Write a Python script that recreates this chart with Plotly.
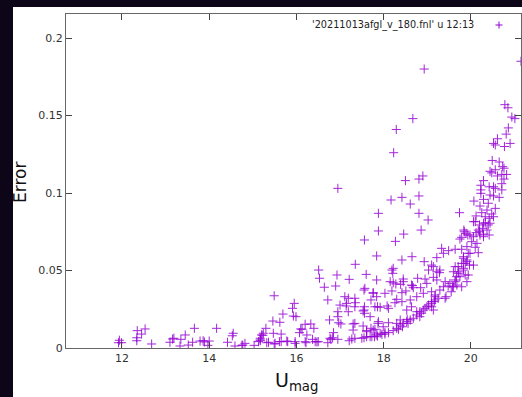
import plotly.graph_objects as go

# U magnitude (x) and error (y)
umag = [
    11.94, 11.92, 11.99, 12.35, 12.34, 12.34, 12.45, 12.53, 12.68, 13.10, 13.16, 13.19, 13.33, 13.35, 13.45, 13.52,
    13.62, 13.66, 13.79, 13.86, 13.89, 13.97, 14.00, 14.17, 14.42, 14.53, 14.55, 14.59, 14.75, 14.82, 15.03, 15.13,
    15.17, 15.20, 15.24, 15.30, 15.32,
    15.49, 15.95, 15.91, 15.69, 15.93, 15.99, 15.46, 15.62, 15.47, 15.65, 16.20, 16.10, 16.24, 15.17, 15.51, 15.65,
    15.78, 15.97, 16.22,
    15.23, 16.13, 16.33, 16.40, 16.07,
    14.77, 15.17, 15.36, 15.49, 15.61, 15.80, 15.97, 16.37, 16.47, 16.72, 16.79, 16.95, 17.21, 17.27, 17.34, 17.50,
    17.55, 17.69, 17.79, 17.86,
    16.95, 17.88, 17.88, 17.56, 17.84, 16.51, 16.53, 16.93, 17.35, 17.21, 17.60, 16.64, 16.90, 16.72, 17.19, 17.15,
    17.14, 17.35, 17.55, 17.76, 17.84, 17.71, 17.56, 17.53, 17.56, 17.80, 16.76, 16.95, 16.97, 17.02, 17.30, 17.61,
    17.71, 17.87, 17.83, 16.85, 16.83,
    18.90, 18.81, 18.50, 18.17, 18.42, 18.61, 18.81, 18.81, 19.02, 19.74, 18.46, 18.86, 18.27, 18.42, 18.65, 18.93,
    19.22, 19.33, 19.49, 19.64, 19.79, 19.75, 19.85, 19.93, 18.22, 18.21, 18.45, 18.28, 18.15, 18.39, 18.66, 18.78,
    18.95, 19.03, 19.10, 19.29, 19.28, 17.76, 18.03, 18.19, 18.51, 18.68, 18.85, 18.99, 19.14, 19.22, 17.86, 18.08,
    18.30, 18.42, 18.61, 18.76, 18.91, 19.10, 19.18, 19.43, 19.55, 19.52, 19.68, 18.53, 18.64, 18.76, 18.87, 18.95,
    19.03, 19.10, 19.18, 18.83, 18.68, 18.54, 18.45, 18.38, 18.30, 18.56, 18.43, 18.34, 18.22, 18.11, 18.03, 17.92,
    17.73, 17.76,
    19.64, 19.71, 19.83, 19.75, 19.87, 19.91, 19.79, 19.64, 19.58, 19.48, 19.37, 19.91, 19.83, 19.94, 19.87,
    20.78, 20.85, 20.94, 21.01, 20.86, 20.81, 20.61, 20.52, 20.56, 20.77, 20.90, 20.49, 20.65, 20.73, 20.76, 20.56,
    20.44, 20.48, 20.71, 20.82, 20.61, 20.76, 20.71, 20.29, 20.23, 20.23, 20.42, 20.52, 20.56, 20.71, 20.23, 20.44,
    20.52, 20.65, 20.29, 20.07, 20.40, 20.21, 20.56, 20.37, 20.12, 20.25, 20.48, 20.52, 20.42, 20.33, 20.06, 20.20,
    20.29, 20.44, 20.42, 20.27, 20.17, 20.12, 20.21, 19.84, 19.89, 19.98, 20.06, 19.79, 20.29, 20.37,
    20.10, 20.33, 20.40, 20.20, 20.29, 20.02, 20.14, 19.91, 20.10, 20.17, 19.98, 19.37, 19.83, 19.91, 19.79, 19.97,
    20.06, 19.71, 19.83, 19.71, 19.60, 19.94, 19.67, 19.64, 19.41, 19.60, 19.29, 19.41, 19.18, 19.16, 19.25, 19.10,
    19.14, 19.22, 19.14,
    18.93, 18.67, 18.29, 18.23, 21.15,
    16.20, 16.43, 16.50, 16.77, 17.61, 17.96, 18.03, 18.30, 18.38, 18.53, 18.61, 18.76, 18.83, 18.91, 18.99, 19.10,
    16.95, 17.34, 17.55, 17.92, 18.11, 18.26, 18.42, 18.64, 18.45, 18.22, 18.19, 17.84, 17.57, 17.34, 17.11, 17.19,
    17.00, 17.69, 17.88, 17.53, 17.34, 17.30, 17.61, 17.80, 17.99, 18.11,
]
error = [
    0.0050, 0.0034, 0.0034, 0.0112, 0.0066, 0.0047, 0.0090, 0.0123, 0.0026, 0.0037, 0.0058, 0.0063, 0.0013, 0.0056, 0.0084, 0.0019,
    0.0037, 0.0127, 0.0045, 0.0047, 0.0039, 0.0017, 0.0045, 0.0127, 0.0037, 0.0079, 0.0095, 0.0013, 0.0017, 0.0030, 0.0017, 0.0041,
    0.0063, 0.0084, 0.0095, 0.0127, 0.0034,
    0.0337, 0.0288, 0.0256, 0.0219, 0.0206, 0.0202, 0.0174, 0.0166, 0.0095, 0.0090, 0.0153, 0.0123, 0.0084, 0.0052, 0.0030, 0.0041,
    0.0045, 0.0041, 0.0034,
    0.0082, 0.0121, 0.0155, 0.0127, 0.0099,
    0.0019, 0.0047, 0.0037, 0.0026, 0.0041, 0.0041, 0.0030, 0.0056, 0.0039, 0.0034, 0.0056, 0.0056, 0.0047, 0.0058, 0.0063, 0.0063,
    0.0066, 0.0073, 0.0073, 0.0077,
    0.1030, 0.0869, 0.0755, 0.0697, 0.0594, 0.0503, 0.0450, 0.0471, 0.0540, 0.0443, 0.0475, 0.0392, 0.0400, 0.0310, 0.0321, 0.0288,
    0.0271, 0.0292, 0.0374, 0.0357, 0.0331, 0.0310, 0.0266, 0.0239, 0.0224, 0.0266, 0.0181, 0.0202, 0.0163, 0.0155, 0.0155, 0.0112,
    0.0127, 0.0159, 0.0084, 0.0099, 0.0066,
    0.1110, 0.1090, 0.1080, 0.0955, 0.0972, 0.0929, 0.0981, 0.0869, 0.0826, 0.0873, 0.0735, 0.0761, 0.0688, 0.0568, 0.0589, 0.0557,
    0.0583, 0.0643, 0.0628, 0.0637, 0.0637, 0.0703, 0.0750, 0.0729, 0.0514, 0.0482, 0.0445, 0.0413, 0.0428, 0.0411, 0.0402, 0.0450,
    0.0445, 0.0503, 0.0535, 0.0503, 0.0486, 0.0353, 0.0353, 0.0368, 0.0368, 0.0389, 0.0389, 0.0417, 0.0456, 0.0439, 0.0266, 0.0271,
    0.0314, 0.0299, 0.0310, 0.0331, 0.0353, 0.0363, 0.0331, 0.0331, 0.0363, 0.0417, 0.0406, 0.0245, 0.0266, 0.0234, 0.0224, 0.0256,
    0.0277, 0.0299, 0.0310, 0.0202, 0.0192, 0.0185, 0.0159, 0.0181, 0.0159, 0.0159, 0.0137, 0.0121, 0.0112, 0.0099, 0.0090, 0.0095,
    0.0073, 0.0116,
    0.0525, 0.0492, 0.0503, 0.0460, 0.0471, 0.0428, 0.0395, 0.0439, 0.0395, 0.0400, 0.0395, 0.0568, 0.0589, 0.0611, 0.0546,
    0.157, 0.155, 0.149, 0.148, 0.142, 0.138, 0.135, 0.132, 0.131, 0.130, 0.132, 0.121, 0.120, 0.117, 0.116, 0.115,
    0.114, 0.113, 0.112, 0.112, 0.111, 0.109, 0.106, 0.108, 0.105, 0.102, 0.104, 0.104, 0.103, 0.102, 0.0998, 0.0987,
    0.0981, 0.0972, 0.0959, 0.0948, 0.0934, 0.0916, 0.0901, 0.0890, 0.0852, 0.0873, 0.0865, 0.0847, 0.0837, 0.0847, 0.0815, 0.0794,
    0.0805, 0.0805, 0.0729, 0.0772, 0.0761, 0.0744, 0.0729, 0.0761, 0.0740, 0.0729, 0.0718, 0.0714, 0.0718, 0.0761,
    0.0815, 0.0808, 0.0794, 0.0750, 0.0735, 0.0686, 0.0675, 0.0654, 0.0650, 0.0615, 0.0611, 0.0611, 0.0579, 0.0557, 0.0546, 0.0535,
    0.0535, 0.0525, 0.0514, 0.0482, 0.0492, 0.0471, 0.0460, 0.0428, 0.0428, 0.0395, 0.0374, 0.0321, 0.0342, 0.0299, 0.0321, 0.0266,
    0.0245, 0.0492, 0.0525,
    0.180, 0.148, 0.141, 0.126, 0.185,
    0.0041, 0.0041, 0.0041, 0.0063, 0.0073, 0.0088, 0.0101, 0.0127, 0.0148, 0.0170, 0.0181, 0.0213, 0.0234, 0.0245, 0.0266, 0.0288,
    0.0234, 0.0266, 0.0245, 0.0263, 0.0256, 0.0292, 0.0357, 0.0406, 0.0428, 0.0421, 0.0503, 0.0439, 0.0385, 0.0321, 0.0331, 0.0234,
    0.0277, 0.0202, 0.0170, 0.0142, 0.0159, 0.0116, 0.0105, 0.0121, 0.0137, 0.0163,
]

x_ticks = [12, 14, 16, 18, 20]
y_ticks = [0, 0.05, 0.1, 0.15, 0.2]
y_tick_text = ["0", "0.05", "0.1", "0.15", "0.2"]
legend_label = "'20211013afgl_v_180.fnl' u 12:13"
x_title = "U<sub>mag</sub>"
y_title = "Error"

violet = "#9400d3"
font_family = "DejaVu Sans, sans-serif"

fig = go.Figure()
fig.add_trace(go.Scatter(
    x=umag, y=error, mode="markers",
    marker=dict(symbol="cross-thin", size=6.5, color=violet, opacity=0.85,
                line=dict(width=1, color=violet)),
    showlegend=False, hoverinfo="skip",
))

W, H = 522, 397
ml, mr, mt, mb = 66, 1, 14, 49
pw, ph = W - ml - mr, H - mt - mb


def px(xp):
    return (xp - ml) / pw


def py(yp):
    return (H - mb - yp) / ph


axis_common = dict(
    showline=True, linecolor="#666", linewidth=1, mirror="ticks",
    ticks="inside", ticklen=6, tickcolor="#444", tickwidth=1,
    showgrid=False, zeroline=False,
    tickfont=dict(family=font_family, size=11, color="#333"),
)

fig.update_layout(
    width=W, height=H,
    margin=dict(l=ml, r=mr, t=mt, b=mb),
    paper_bgcolor="#0c0618",
    plot_bgcolor="white",
    xaxis=dict(range=[10.716, 21.15], tickvals=x_ticks, **axis_common),
    yaxis=dict(range=[0, 0.2155], tickvals=y_ticks, ticktext=y_tick_text, **axis_common),
    shapes=[
        dict(type="rect", xref="paper", yref="paper", layer="below",
             x0=px(13), x1=px(530), y0=py(400), y1=py(7),
             fillcolor="white", line=dict(width=0)),
        dict(type="line", xref="paper", yref="paper",
             x0=px(495.5), x1=px(502.5), y0=py(25), y1=py(25),
             line=dict(color=violet, width=1)),
        dict(type="line", xref="paper", yref="paper",
             x0=px(499), x1=px(499), y0=py(21.5), y1=py(28.5),
             line=dict(color=violet, width=1)),
    ],
    annotations=[
        dict(text=legend_label, xref="paper", yref="paper", x=px(476), y=py(25),
             xanchor="right", yanchor="middle", showarrow=False,
             font=dict(family=font_family, size=9.7, color="#222")),
        dict(text=y_title, xref="paper", yref="paper", x=px(20), y=py(183),
             xanchor="center", yanchor="middle", showarrow=False, textangle=-90,
             font=dict(family=font_family, size=17, color="#111")),
        dict(text=x_title, xref="paper", yref="paper", x=px(296), y=py(381),
             xanchor="center", yanchor="middle", showarrow=False,
             font=dict(family=font_family, size=19, color="#111")),
    ],
)

fig.write_html("out.html")
